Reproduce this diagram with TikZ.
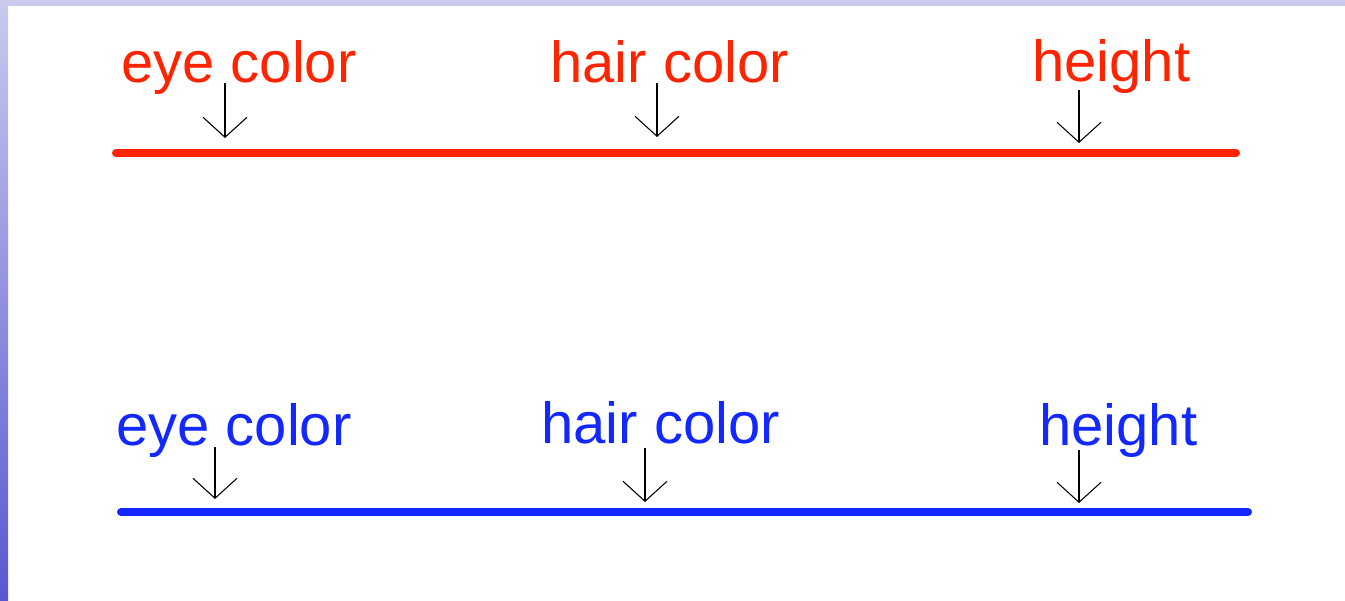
\documentclass[tikz,border=0pt]{standalone}
\usepackage{fontspec}
\setmainfont{Liberation Sans}
\usetikzlibrary{arrows.meta}
\definecolor{lblred}{RGB}{255,36,0}
\definecolor{lblblue}{RGB}{18,40,255}
\definecolor{bandtop}{RGB}{202,202,238}
\definecolor{bandbot}{RGB}{88,88,210}
\tikzset{
  lbl/.style={anchor=base west, inner sep=0pt, font=\fontsize{43.5}{50}\selectfont},
  redlbl/.style={lbl, text=lblred},
  bluelbl/.style={lbl, text=lblblue},
  axisline/.style={line width=6pt, line cap=round},
  pointer/.style={black, line width=0.8pt, -{Straight Barb[length=15pt, width=33pt, line width=0.8pt]}}
}
\begin{document}
\begin{tikzpicture}[x=0.75pt, y=-0.75pt]
\useasboundingbox (0,0) rectangle (1345,600);
\fill[white] (0,0) rectangle (1345,600);
% borders
\fill[bandtop] (0,0) rectangle (1345,6);
\shade[top color=bandtop, bottom color=bandbot] (0,0) rectangle (8,600);

% red row
\node[redlbl] (reye) at (121,82) {eye color};
\node[redlbl] (rhair) at (550,82) {hair color};
\node[redlbl] (rheight) at (1032,81) {height};
\coordinate (rl) at (116,153);
\coordinate (rr) at (1236,153);
\draw[axisline, lblred] (rl) -- (rr);
\coordinate (ra1) at (225,83);  \coordinate (rb1) at (225,138);
\coordinate (ra2) at (657,83);  \coordinate (rb2) at (657,137);
\coordinate (ra3) at (1079,90); \coordinate (rb3) at (1079,143);
\draw[pointer] (ra1) -- (rb1);
\draw[pointer] (ra2) -- (rb2);
\draw[pointer] (ra3) -- (rb3);

% blue row
\node[bluelbl] (beye) at (116,445) {eye color};
\node[bluelbl] (bhair) at (541,443) {hair color};
\node[bluelbl] (bheight) at (1039,445) {height};
\coordinate (bl) at (121,512);
\coordinate (br) at (1248,512);
\draw[axisline, lblblue] (bl) -- (br);
\coordinate (ba1) at (215,447);  \coordinate (bb1) at (215,499);
\coordinate (ba2) at (645,448);  \coordinate (bb2) at (645,502);
\coordinate (ba3) at (1079,450); \coordinate (bb3) at (1079,503);
\draw[pointer] (ba1) -- (bb1);
\draw[pointer] (ba2) -- (bb2);
\draw[pointer] (ba3) -- (bb3);
\end{tikzpicture}
\end{document}
